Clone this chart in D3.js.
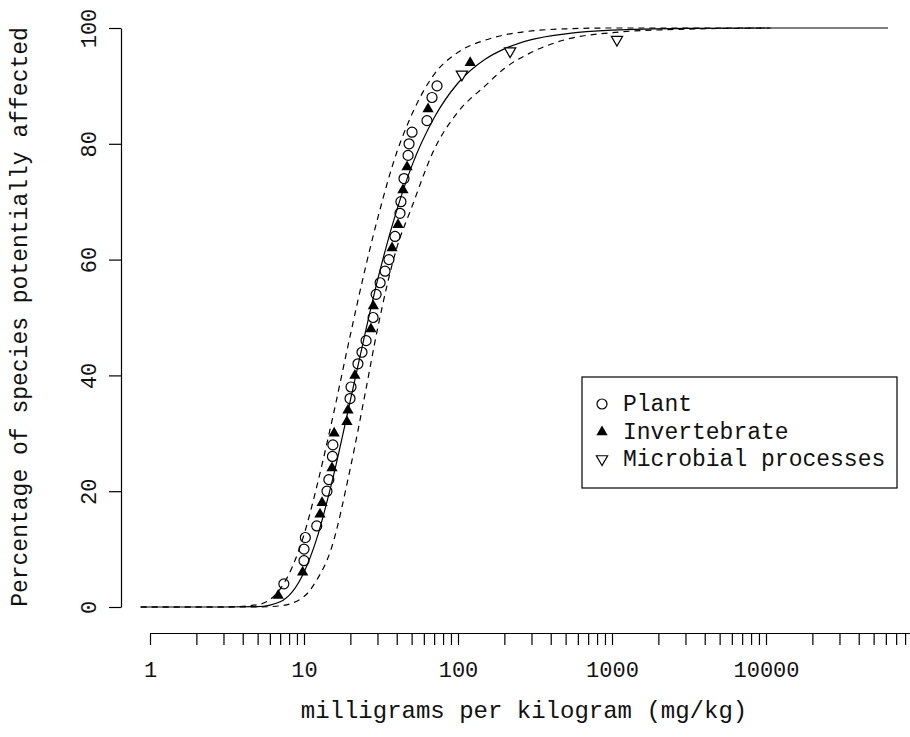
<!DOCTYPE html>
<html lang="en">
<head>
<meta charset="utf-8">
<title>Species sensitivity distribution</title>
<script src="https://d3js.org/d3.v7.min.js"></script>
<style type="text/css">
  body { margin: 0; background: #fff; }
  svg { display: block; }
  text { font-family: "Liberation Mono", "Courier New", monospace; fill: #111; }
</style>
</head>
<body>
<div id="chart"></div>
<script type="text/javascript">

// observed points (mg/kg and plotting position %)
var plantMgKg = [7.4, 10, 10, 10.2, 12.1, 14.1, 14.5, 15.3, 15.4, 19.9, 20.2, 22.4, 23.8, 25.3, 28.1,
                 29.4, 31.2, 33.6, 35.6, 39, 42, 42.6, 44.6, 47.4, 48.1, 50.3, 62.9, 67.8, 73.1];
var plantPct  = [4, 8, 10, 12, 14, 20, 22, 26, 28, 36, 38, 42, 44, 46, 50,
                 54, 56, 58, 60, 64, 68, 70, 74, 78, 80, 82, 84, 88, 90];

var invertMgKg = [6.8, 9.8, 12.7, 13.1, 15.2, 15.7, 19, 19.3, 21.4, 27.2, 28.2, 37.3, 40.8, 43.9, 46.7, 63.9, 120];
var invertPct  = [2, 6, 16, 18, 24, 30, 32, 34, 40, 48, 52, 62, 66, 72, 76, 86, 94];

var microbialMgKg = [106, 218, 1077];
var microbialPct  = [92, 96, 98];

// fitted curve and confidence bands
var fitMgKg = [0.87, 1, 3, 5, 7, 10, 12, 15, 20, 25, 30, 40, 50, 70, 100, 150, 200, 300, 500, 1000, 3000, 10000, 62000];
var fitPct  = [0, 0, 0, 0.05, 0.9, 6, 11.5, 21, 35.7, 47.4, 56.4, 68.5, 76.1, 84.5, 90.5, 94.6, 96.4, 98, 99, 99.64, 99.93, 100, 100];

var bandMgKg = [0.87, 1, 3, 5, 7, 10, 12, 15, 20, 25, 30, 40, 50, 70, 100, 150, 200, 300, 500, 1000, 3000, 10700];
var upperPct = [0, 0, 0, 0.4, 3.1, 12.5, 20.4, 31.5, 47, 58.5, 67, 78.5, 85, 92, 95.8, 97.9, 98.8, 99.5, 99.85, 100, 100, 100];
var lowerPct = [0, 0, 0, 0, 0.2, 1.8, 4.5, 10, 24, 37, 48, 62, 69, 79, 85.5, 90, 93, 95.8, 98, 99.2, 99.8, 100];

var yTicks = [0, 20, 40, 60, 80, 100];
var xLabelTicks = [1, 10, 100, 1000, 10000];

var legendNames = ["Plant", "Invertebrate", "Microbial processes"];

//Width and height
var w = 910;
var h = 737;

var xScale = d3.scaleLog().domain([1, 100000]).range([150, 920]);
var yScale = d3.scaleLinear().domain([0, 100]).range([607, 28]);

var svg = d3.select("#chart")
            .append("svg")
            .attr("width", w)
            .attr("height", h);

// y axis
var yAxis = svg.append("g")
    .attr("transform", "translate(121,0)")
    .call(d3.axisLeft(yScale).tickValues(yTicks).tickSize(12).tickSizeOuter(0));
yAxis.select(".domain").attr("stroke", "#000").attr("stroke-width", 1.2);
yAxis.selectAll(".tick line").attr("stroke", "#000").attr("stroke-width", 1.2);
yAxis.selectAll(".tick text")
    .attr("x", null).attr("dy", null)
    .attr("text-anchor", "middle")
    .attr("transform", "translate(-25,0) rotate(-90)")
    .style("font-size", "22px");

// x axis, minor ticks at every 1..9 of each decade
var xTicks = [];
for (var k = 0; k < 5; k++) {
  for (var m = 1; m < 10; m++) xTicks.push(m * Math.pow(10, k));
}
var xAxis = svg.append("g")
    .attr("transform", "translate(0,633)")
    .call(d3.axisBottom(xScale).tickValues(xTicks).tickSize(12).tickSizeOuter(0)
          .tickFormat(function(d) { return xLabelTicks.indexOf(d) >= 0 ? String(d) : ""; }));
xAxis.select(".domain").attr("stroke", "#000").attr("stroke-width", 1.2);
xAxis.selectAll(".tick line").attr("stroke", "#000").attr("stroke-width", 1.2);
xAxis.selectAll(".tick text")
    .attr("y", 44).attr("dy", null)
    .style("font-size", "22px");

// axis titles
svg.append("text")
   .attr("transform", "translate(27,317) rotate(-90)")
   .attr("text-anchor", "middle")
   .style("font-size", "23px")
   .text("Percentage of species potentially affected");

svg.append("text")
   .attr("x", 524)
   .attr("y", 718)
   .attr("text-anchor", "middle")
   .style("font-size", "24px")
   .text("milligrams per kilogram (mg/kg)");

// curves
var line = d3.line()
    .x(function(d) { return xScale(d[0]); })
    .y(function(d) { return yScale(d[1]); })
    .curve(d3.curveMonotoneX);

svg.append("path")
   .datum(d3.zip(bandMgKg, upperPct))
   .attr("d", line)
   .attr("fill", "none").attr("stroke", "#000").attr("stroke-width", 1.2)
   .attr("stroke-dasharray", "6,5");

svg.append("path")
   .datum(d3.zip(bandMgKg, lowerPct))
   .attr("d", line)
   .attr("fill", "none").attr("stroke", "#000").attr("stroke-width", 1.2)
   .attr("stroke-dasharray", "6,5");

svg.append("path")
   .datum(d3.zip(fitMgKg, fitPct))
   .attr("d", line)
   .attr("fill", "none").attr("stroke", "#000").attr("stroke-width", 1.2);

// points
var triSym = d3.symbol().type(d3.symbolTriangle).size(55);

svg.selectAll(".plant")
   .data(d3.zip(plantMgKg, plantPct))
   .enter().append("circle")
   .attr("class", "plant")
   .attr("cx", function(d) { return xScale(d[0]); })
   .attr("cy", function(d) { return yScale(d[1]); })
   .attr("r", 5)
   .attr("fill", "none").attr("stroke", "#000").attr("stroke-width", 1.2);

svg.selectAll(".invert")
   .data(d3.zip(invertMgKg, invertPct))
   .enter().append("path")
   .attr("class", "invert")
   .attr("d", triSym)
   .attr("transform", function(d) { return "translate(" + xScale(d[0]) + "," + yScale(d[1]) + ")"; })
   .attr("fill", "#000");

svg.selectAll(".microbe")
   .data(d3.zip(microbialMgKg, microbialPct))
   .enter().append("path")
   .attr("class", "microbe")
   .attr("d", triSym)
   .attr("transform", function(d) { return "translate(" + xScale(d[0]) + "," + yScale(d[1]) + ") rotate(180)"; })
   .attr("fill", "#fff").attr("stroke", "#000").attr("stroke-width", 1.2);

// legend
var legend = svg.append("g").attr("transform", "translate(582,377)");
legend.append("rect")
   .attr("width", 315).attr("height", 111)
   .attr("fill", "#fff").attr("stroke", "#000").attr("stroke-width", 1.2);

legend.selectAll("text")
   .data(legendNames)
   .enter().append("text")
   .attr("x", 41)
   .attr("y", function(d, i) { return 34 + i * 27.5; })
   .style("font-size", "23px")
   .text(function(d) { return d; });

legend.append("circle")
   .attr("cx", 20).attr("cy", 27).attr("r", 5)
   .attr("fill", "none").attr("stroke", "#000").attr("stroke-width", 1.2);
legend.append("path")
   .attr("d", triSym)
   .attr("transform", "translate(20,55)")
   .attr("fill", "#000");
legend.append("path")
   .attr("d", triSym)
   .attr("transform", "translate(20,82) rotate(180)")
   .attr("fill", "#fff").attr("stroke", "#000").attr("stroke-width", 1.2);

</script>
</body>
</html>
